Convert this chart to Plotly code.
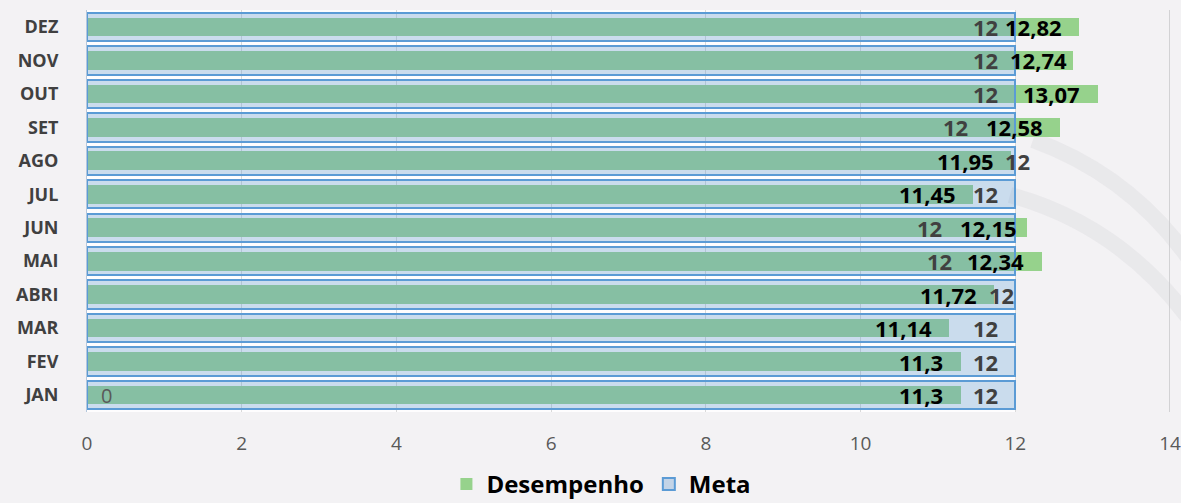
import plotly.graph_objects as go

# Data
meses = ['JAN', 'FEV', 'MAR', 'ABRI', 'MAI', 'JUN', 'JUL', 'AGO', 'SET', 'OUT', 'NOV', 'DEZ']
desempenho = [11.3, 11.3, 11.14, 11.72, 12.34, 12.15, 11.45, 11.95, 12.58, 13.07, 12.74, 12.82]
meta = [12, 12, 12, 12, 12, 12, 12, 12, 12, 12, 12, 12]
x_ticks = [0, 2, 4, 6, 8, 10, 12, 14]

# label nudges (pixels) to mimic the hand-placed labels of the original
desemp_shift = [-16, -16, -15, -15, -16, -8, -15, -15, -15, -16, -4, -15]
meta_shift = [-15, -15, -15, 1, -61, -71, -15, 17, -45, -15, -15, -15]

FONT = 'Open Sans'


def fmt(v):
    return ('%g' % v).replace('.', ',')


fig = go.Figure()

fig.add_trace(go.Bar(
    y=meses, x=desempenho, name='Desempenho', orientation='h',
    width=0.56,
    marker=dict(color='rgb(150,210,140)', line=dict(width=0)),
    hoverinfo='x+y'
))

fig.add_trace(go.Bar(
    y=meses, x=meta, name='Meta', orientation='h',
    width=0.85,
    marker=dict(color='rgba(106,157,206,0.35)',
                line=dict(color='rgb(91,155,213)', width=2)),
    hoverinfo='x+y'
))

annotations = []
for m, d, s in zip(meses, desempenho, desemp_shift):
    annotations.append(dict(
        x=d, y=m, xref='x', yref='y', text='<b>' + fmt(d) + '</b>',
        showarrow=False, xanchor='right', xshift=s,
        font=dict(family=FONT, size=22, color='black')
    ))
for m, v, s in zip(meses, meta, meta_shift):
    annotations.append(dict(
        x=v, y=m, xref='x', yref='y', text='<b>' + fmt(v) + '</b>',
        showarrow=False, xanchor='right', xshift=s,
        font=dict(family=FONT, size=22, color='rgb(64,64,64)')
    ))
# stray zero label on JAN
annotations.append(dict(
    x=0, y='JAN', xref='x', yref='y', text='0', showarrow=False,
    xanchor='left', xshift=12,
    font=dict(family=FONT, size=20, color='rgb(89,89,89)')
))

shapes = [
    # white backdrop behind the bar block (gaps between bars look white)
    dict(type='rect', xref='x', yref='paper', x0=0, x1=max(meta), y0=0, y1=1,
         fillcolor='rgba(255,255,255,0.85)', line=dict(width=0), layer='below'),
    # last gridline at the right edge
    dict(type='line', xref='x', yref='paper', x0=x_ticks[-1], x1=x_ticks[-1], y0=0, y1=1,
         line=dict(color='rgb(210,210,212)', width=2), layer='below'),
    # faint watermark swooshes
    dict(type='path', xref='paper', yref='paper',
         path='M 0.8735 0.6766 Q 0.9631 0.5896 1.0185 0.378',
         line=dict(color='rgba(200,200,205,0.22)', width=16), layer='below'),
    dict(type='path', xref='paper', yref='paper',
         path='M 0.8523 0.5398 Q 0.9538 0.4652 1.0185 0.2289',
         line=dict(color='rgba(200,200,205,0.22)', width=16), layer='below'),
]

fig.update_layout(
    width=1181, height=503,
    barmode='overlay',
    bargap=0,
    paper_bgcolor='rgb(243,242,244)',
    plot_bgcolor='rgba(0,0,0,0)',
    margin=dict(l=87, r=11, t=10, b=91, autoexpand=False),
    annotations=annotations,
    shapes=shapes,
    xaxis=dict(
        range=[0, 14], tickvals=x_ticks, ticktext=[str(t) for t in x_ticks],
        showgrid=True, gridcolor='rgb(217,217,217)', gridwidth=1,
        zeroline=False, showline=False, automargin=False,
        tickfont=dict(family=FONT, size=19, color='rgb(89,89,89)'),
        ticks='', ticklabelstandoff=18, fixedrange=True
    ),
    yaxis=dict(
        categoryorder='array', categoryarray=meses,
        tickfont=dict(family=FONT, size=18, color='rgb(64,64,64)', weight='bold'),
        ticklabelstandoff=24, showgrid=False, zeroline=False, automargin=False,
        showline=True, linecolor='rgb(180,199,220)', linewidth=1,
        ticks='', fixedrange=True
    ),
    legend=dict(
        orientation='h', x=0.475, xanchor='center',
        y=-0.18, yanchor='middle',
        font=dict(family=FONT, size=24, color='black', weight='bold'),
        bgcolor='rgba(0,0,0,0)', itemwidth=30
    ),
    showlegend=True
)

fig.write_html('out.html', config={'displayModeBar': False},
               post_script="document.body.style.margin='0';document.body.style.overflow='hidden';")
